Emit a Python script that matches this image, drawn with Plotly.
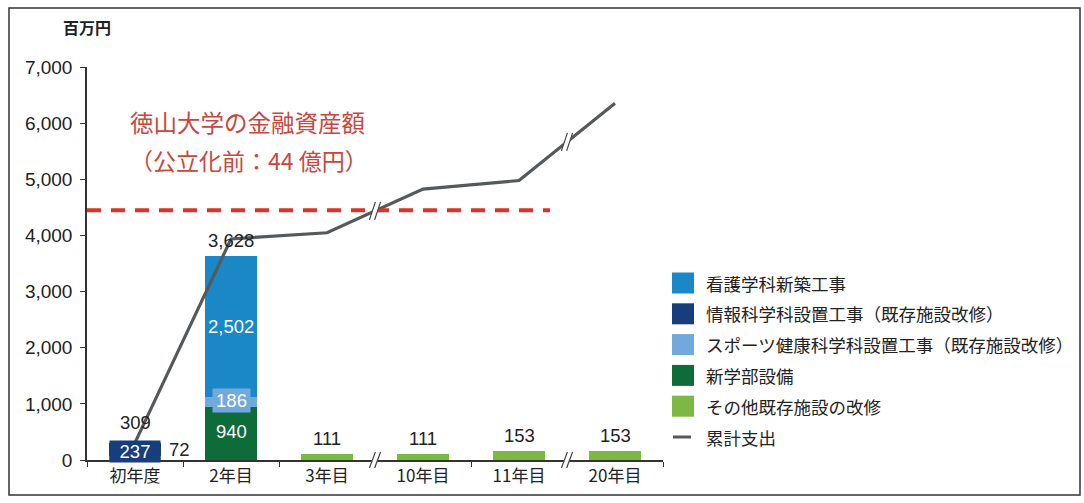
import plotly.graph_objects as go

categories = ["初年度", "2年目", "3年目", "10年目", "11年目", "20年目"]
kango = [0, 2502, 0, 0, 0, 0]          # 看護学科新築工事
joho = [237, 0, 0, 0, 0, 0]            # 情報科学科設置工事（既存施設改修）
sports = [0, 186, 0, 0, 0, 0]          # スポーツ健康科学科設置工事（既存施設改修）
shingakubu = [0, 940, 0, 0, 0, 0]      # 新学部設備
sonota = [72, 0, 111, 111, 153, 153]   # その他既存施設の改修
totals = [309, 3628, 111, 111, 153, 153]
cumulative = [309, 3937, 4048, 4825, 4978, 6355]  # 累計支出
asset_line = 4450  # 徳山大学の金融資産額 (44億円)

names = ["看護学科新築工事", "情報科学科設置工事（既存施設改修）",
         "スポーツ健康科学科設置工事（既存施設改修）", "新学部設備",
         "その他既存施設の改修", "累計支出"]
colors = ["#1a87c6", "#173d7a", "#72a9dc", "#0e6b3a", "#7cb843", "#55595c"]

W, H = 1084, 503
L, R, T, B = 87, 421, 67, 43
PW, PH = W - L - R, H - T - B
YMAX = 7000

FONT = "Liberation Sans, Arial, Noto Sans CJK JP, sans-serif"
JFONT = "Noto Sans CJK JP, sans-serif"


def px2paper_x(px):
    return (px - L) / PW


def px2paper_y(py):
    return (H - B - py) / PH


fig = go.Figure()
stack = [(sonota, 4), (shingakubu, 3), (sports, 2), (joho, 1), (kango, 0)]
for vals, ci in stack:
    fig.add_trace(go.Bar(x=categories, y=vals, name=names[ci],
                         marker=dict(color=colors[ci], line=dict(width=0)),
                         width=0.55, showlegend=False, hoverinfo="skip"))

fig.add_trace(go.Scatter(x=categories, y=cumulative, mode="lines",
                         line=dict(color=colors[5], width=3.2),
                         name=names[5], showlegend=False))

shapes = []
annotations = []

# asset dashed line
shapes.append(dict(type="line", xref="paper", yref="y", x0=0, x1=px2paper_x(550),
                   y0=asset_line, y1=asset_line,
                   line=dict(color="#d8352a", width=4, dash="14px,10px")))


def brk(cx_paper, cy_paper, h=16):
    cx = L + cx_paper * PW
    cy = H - B - cy_paper * PH
    out = []
    out.append(dict(type="line", xref="paper", yref="paper",
                    x0=px2paper_x(cx - 3), y0=px2paper_y(cy + h / 2),
                    x1=px2paper_x(cx + 3), y1=px2paper_y(cy - h / 2),
                    line=dict(color="white", width=5)))
    for off in (-2.6, 2.6):
        out.append(dict(type="line", xref="paper", yref="paper",
                        x0=px2paper_x(cx - 3 + off), y0=px2paper_y(cy + h / 2),
                        x1=px2paper_x(cx + 3 + off), y1=px2paper_y(cy - h / 2),
                        line=dict(color="#444", width=1.2)))
    return out


n = len(categories)
for i in (2, 4):
    xp = (i + 1) / n
    shapes += brk(xp, 0)
    ymid = (cumulative[i] + cumulative[i + 1]) / 2
    shapes += brk(xp, ymid / YMAX, h=18)

# frame
shapes.append(dict(type="rect", xref="paper", yref="paper",
                   x0=px2paper_x(9), x1=px2paper_x(1080),
                   y0=px2paper_y(495), y1=px2paper_y(8),
                   line=dict(color="#333", width=1.5), layer="below"))

# totals above bars
for i, t in enumerate(totals):
    annotations.append(dict(x=categories[i], y=t, text=f"{t:,}", showarrow=False,
                            yanchor="bottom", yshift=3 if i else 8,
                            font=dict(size=18.5, color="#222", family=FONT)))
# inside labels
annotations.append(dict(x=categories[0], y=sonota[0] + joho[0] / 2 - 40, text=f"{joho[0]:,}",
                        showarrow=False, bgcolor=colors[1], borderpad=0,
                        width=50, height=21,
                        font=dict(size=18.5, color="white", family=FONT)))
annotations.append(dict(x=categories[0], y=sonota[0] * 2.6, text=f"{sonota[0]:,}",
                        showarrow=False, xshift=44,
                        font=dict(size=18.5, color="#222", family=FONT)))
annotations.append(dict(x=categories[1], y=shingakubu[1] + sports[1] + kango[1] / 2,
                        text=f"{kango[1]:,}", showarrow=False,
                        font=dict(size=18.5, color="white", family=FONT)))
annotations.append(dict(x=categories[1], y=shingakubu[1] + sports[1] / 2 + 30,
                        text=f"{sports[1]:,}", showarrow=False, bgcolor=colors[2],
                        borderpad=0, width=37, height=23,
                        font=dict(size=18.5, color="white", family=FONT)))
annotations.append(dict(x=categories[1], y=shingakubu[1] / 2 + 30,
                        text=f"{shingakubu[1]:,}", showarrow=False,
                        font=dict(size=18.5, color="white", family=FONT)))

# title text
annotations.append(dict(xref="paper", yref="paper", x=px2paper_x(247), y=px2paper_y(122),
                        xanchor="center", yanchor="middle",
                        text="徳山大学の金融資産額", showarrow=False,
                        font=dict(size=23.5, color="#c9473e", family=JFONT)))
annotations.append(dict(xref="paper", yref="paper", x=px2paper_x(249), y=px2paper_y(160),
                        xanchor="center", yanchor="middle",
                        text="（公立化前：44 億円）", showarrow=False,
                        font=dict(size=23, color="#c9473e", family=JFONT)))
annotations.append(dict(xref="paper", yref="paper", x=px2paper_x(87), y=px2paper_y(27),
                        xanchor="center", yanchor="middle",
                        text="<b>百万円</b>", showarrow=False,
                        font=dict(size=16, color="#222", family=JFONT)))

# manual legend
for k, name in enumerate(names):
    cy = 283 + k * 30.8
    if k < 5:
        shapes.append(dict(type="rect", xref="paper", yref="paper",
                           x0=px2paper_x(672), x1=px2paper_x(694),
                           y0=px2paper_y(cy + 10.5), y1=px2paper_y(cy - 10.5),
                           fillcolor=colors[k], line=dict(width=0)))
    else:
        shapes.append(dict(type="line", xref="paper", yref="paper",
                           x0=px2paper_x(673), x1=px2paper_x(691),
                           y0=px2paper_y(cy), y1=px2paper_y(cy),
                           line=dict(color=colors[5], width=3)))
    annotations.append(dict(xref="paper", yref="paper", x=px2paper_x(704),
                            y=px2paper_y(cy), xanchor="left", yanchor="middle",
                            text=name, showarrow=False,
                            font=dict(size=17.5, color="#222", family=JFONT)))

fig.update_layout(
    width=W, height=H, barmode="stack", bargap=0.45,
    margin=dict(l=L, r=R, t=T, b=B),
    plot_bgcolor="white", paper_bgcolor="white",
    showlegend=False, shapes=shapes, annotations=annotations,
    xaxis=dict(type="category", range=[-0.5, n - 0.5], showline=True,
               linecolor="#333", linewidth=1.5, ticks="outside",
               tickson="boundaries", ticklen=5, tickcolor="#333",
               showgrid=False, tickfont=dict(size=17, color="#222", family=JFONT)),
    yaxis=dict(range=[0, YMAX], dtick=1000, tickformat=",d", showline=True,
               linecolor="#333", linewidth=1.5, ticks="outside", ticklen=5,
               tickcolor="#333", showgrid=False, zeroline=False,
               ticklabelstandoff=4,
               tickfont=dict(size=19, color="#222", family=FONT)),
)

fig.write_html("out.html")
